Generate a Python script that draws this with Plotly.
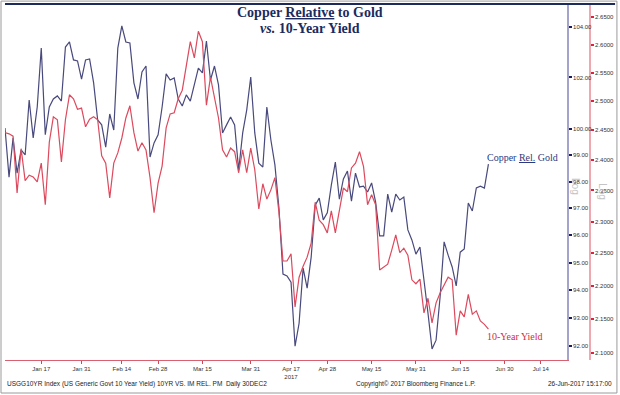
import plotly.graph_objects as go
import pandas as pd

holidays = ["2017-01-16", "2017-02-20", "2017-04-14", "2017-05-29", "2017-07-04"]
dates = pd.bdate_range("2017-01-03", "2017-06-26", freq="C", holidays=holidays)

copper_rel_gold = [
    100.04, 98.17, 99.66, 98.32, 99.20, 99.01, 101.12, 99.66, 100.85, 103.16,
    99.78, 100.85, 101.16, 101.28, 101.08, 103.20, 103.40, 102.69, 102.65, 101.94,
    102.69, 102.73, 101.79, 100.35, 100.16, 99.31, 100.58, 99.96, 103.16, 104.04,
    103.40, 103.36, 101.79, 101.16, 102.22, 102.45, 98.93, 99.47, 99.78, 100.85,
    102.14, 101.90, 101.98, 101.16, 100.89, 101.32, 101.08, 101.71, 102.37, 102.18,
    103.44, 101.90, 102.45, 101.71, 99.85, 100.16, 100.46, 100.16, 98.44, 99.85,
    100.73, 102.02, 99.85, 98.70, 98.55, 100.85, 99.58, 98.63, 97.01, 94.58,
    94.51, 94.29, 92.00, 92.81, 94.80, 94.07, 95.20, 97.12, 97.38, 96.57,
    96.83, 97.87, 98.74, 97.34, 98.10, 98.40, 97.27, 98.32, 97.80, 97.83,
    97.61, 97.95, 97.23, 95.98, 95.98, 97.53, 96.86, 97.53, 97.31, 97.42,
    96.20, 95.83, 95.31, 95.57, 94.44, 93.17, 91.90, 92.21, 93.75, 95.76,
    95.27, 94.84, 94.15, 95.38, 95.50, 97.20, 96.90, 97.76, 97.83, 97.76,
    98.66,
]

ten_year_yield = [
    2.446, 2.444, 2.440, 2.346, 2.419, 2.366, 2.375, 2.372, 2.364, 2.395,
    2.327, 2.430, 2.473, 2.468, 2.397, 2.468, 2.511, 2.504, 2.486, 2.488,
    2.456, 2.469, 2.473, 2.468, 2.407, 2.395, 2.338, 2.395, 2.412, 2.437,
    2.471, 2.492, 2.446, 2.415, 2.429, 2.417, 2.371, 2.314, 2.362, 2.390,
    2.454, 2.478, 2.480, 2.504, 2.519, 2.560, 2.605, 2.576, 2.624, 2.605,
    2.493, 2.542, 2.506, 2.471, 2.417, 2.405, 2.420, 2.414, 2.379, 2.417,
    2.379, 2.420, 2.384, 2.320, 2.361, 2.336, 2.351, 2.371, 2.315, 2.238,
    2.238, 2.249, 2.168, 2.213, 2.230, 2.244, 2.266, 2.331, 2.302, 2.295,
    2.282, 2.317, 2.282, 2.319, 2.354, 2.348, 2.387, 2.395, 2.414, 2.389,
    2.327, 2.343, 2.327, 2.224, 2.229, 2.233, 2.255, 2.279, 2.251, 2.258,
    2.247, 2.209, 2.203, 2.210, 2.159, 2.181, 2.144, 2.174, 2.189, 2.200,
    2.213, 2.209, 2.126, 2.162, 2.153, 2.187, 2.157, 2.162, 2.147, 2.142,
    2.135,
]

x_tick_dates = ["2017-01-17", "2017-01-31", "2017-02-14", "2017-02-28", "2017-03-15",
                "2017-03-31", "2017-04-17", "2017-04-28", "2017-05-15", "2017-05-31",
                "2017-06-15", "2017-06-30", "2017-07-14"]
x_tick_labels = ["Jan 17", "Jan 31", "Feb 14", "Feb 28", "Mar 15", "Mar 31",
                 "Apr 17<br>2017", "Apr 28", "May 15", "May 31", "Jun 15", "Jun 30", "Jul 14"]

copper_ticks = [92, 93, 94, 95, 96, 97, 98, 99, 100, 102, 104]
yield_ticks = [2.10, 2.15, 2.20, 2.25, 2.30, 2.35, 2.40, 2.45, 2.50, 2.55, 2.60, 2.65]

assert len(dates) == len(copper_rel_gold) == len(ten_year_yield)

BLUE = "#48497c"
RED = "#dc4a5e"
TICKFONT = dict(family="Liberation Sans, Arial, sans-serif", size=6, color="#333333")

fig = go.Figure()
fig.add_trace(go.Scatter(x=dates, y=ten_year_yield, yaxis="y2", mode="lines",
                         line=dict(color=RED, width=1.2), name="10-Year Yield"))
fig.add_trace(go.Scatter(x=dates, y=copper_rel_gold, yaxis="y", mode="lines",
                         line=dict(color=BLUE, width=1.2), name="Copper Rel. Gold"))

fig.update_layout(
    width=620, height=395,
    margin=dict(l=5, r=0, t=5, b=35),
    paper_bgcolor="white", plot_bgcolor="white",
    showlegend=False,
    xaxis=dict(
        type="date", domain=[0, 0.9138],
        range=["2017-01-03", "2017-07-24 12:00"],
        rangebreaks=[dict(bounds=["sat", "mon"]), dict(values=holidays)],
        tickvals=x_tick_dates, ticktext=x_tick_labels,
        tickfont=TICKFONT, ticks="outside", ticklen=3, tickcolor="#d04858",
        showline=True, linecolor="#d86070", linewidth=1.2,
        showgrid=False, zeroline=False, automargin=False,
    ),
    yaxis=dict(
        type="log", range=[1.961469, 2.020692], side="right", anchor="x",
        tickvals=copper_ticks, ticktext=[f"{v:.2f}" for v in copper_ticks],
        tickfont=TICKFONT, ticks="outside", ticklen=3, tickcolor="#1c1c5a", tickwidth=1.5,
        showline=True, linecolor="#a3a3cc", linewidth=1.8,
        showgrid=False, zeroline=False, automargin=False,
    ),
    yaxis2=dict(
        type="log", range=[0.320084, 0.426853], side="right", overlaying="y",
        anchor="free", position=0.9512,
        tickvals=yield_ticks, ticktext=[f"{v:.4f}" for v in yield_ticks],
        tickfont=TICKFONT, ticks="outside", ticklen=3, tickcolor="#e02040", tickwidth=1.5,
        showline=True, linecolor="#f0a8b0", linewidth=1.8,
        showgrid=False, zeroline=False, automargin=False,
    ),
)

SERIF = "Liberation Serif, Times New Roman, serif"
SANS = "Liberation Sans, Arial, sans-serif"
ann = [
    dict(x=0.496, y=0.9775, text="<b>Copper <span style='text-decoration:underline'>Relative</span> to Gold</b>",
         font=dict(family=SERIF, size=14, color="#1b2b5e")),
    dict(x=0.496, y=0.9324, text="<b><i>vs.</i> 10-Year Yield</b>",
         font=dict(family=SERIF, size=14, color="#1b2b5e")),
    dict(x=0.8407, y=0.5718, text="Copper <span style='text-decoration:underline'>Rel.</span> Gold",
         font=dict(family=SERIF, size=10, color="#2b3a80")),
    dict(x=0.829, y=0.0648, text="10-Year Yield",
         font=dict(family=SERIF, size=10, color="#d22c3c")),
    dict(x=0.0, y=-0.0676, xanchor="left",
         text="USGG10YR Index (US Generic Govt 10 Year Yield) 10YR VS. IM REL. PM  Daily 30DEC2",
         font=dict(family=SANS, size=6.5, color="#222222")),
    dict(x=0.668, y=-0.0676, text="Copyright\u00a9 2017 Bloomberg Finance L.P.",
         font=dict(family=SANS, size=6.5, color="#222222")),
    dict(x=0.990, y=-0.0676, xanchor="right", text="26-Jun-2017 15:17:00",
         font=dict(family=SANS, size=6.5, color="#222222")),
    dict(x=0.9285, y=0.49, text="Log", textangle=90,
         font=dict(family=SANS, size=10, color="#c4c4c4")),
    dict(x=0.971, y=0.475, text="Log", textangle=90,
         font=dict(family=SANS, size=10, color="#c4c4c4")),
]
for a in ann:
    a.setdefault("xanchor", "center")
    a.update(xref="paper", yref="paper", yanchor="middle", showarrow=False)
fig.update_layout(annotations=ann)

fig.update_layout(shapes=[
    dict(type="line", xref="paper", yref="paper", x0=0.0, x1=0.992, y0=1.0028, y1=1.0028,
         line=dict(color="#1c2a5c", width=2)),
    dict(type="rect", xref="paper", yref="paper", x0=-0.0065, x1=0.995, y0=-0.093, y1=1.011,
         line=dict(color="#9a9a9a", width=1)),
])

fig.write_html("out.html", config={"displayModeBar": False},
               post_script="document.body.style.margin='0';document.body.style.overflow='hidden';")
